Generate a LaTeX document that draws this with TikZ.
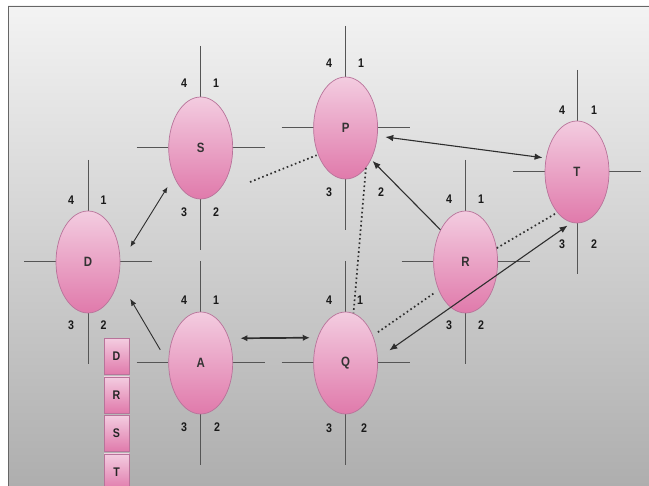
\documentclass[tikz,border=0pt]{standalone}
\usepackage{fontspec}
\setmainfont{Liberation Sans}
\newfontfamily\lblfont[FakeStretch=0.85]{Liberation Sans}
\usetikzlibrary{shapes.geometric,arrows.meta}
\definecolor{pinktop}{HTML}{F3CCE0}
\definecolor{pinkbot}{HTML}{E07AAB}
\definecolor{pinkline}{HTML}{B8739A}
\definecolor{bgtop}{HTML}{F3F3F3}
\definecolor{bgmid}{HTML}{D8D8D8}
\definecolor{bgbot}{HTML}{AEAEAE}
\definecolor{crossc}{HTML}{555555}
\definecolor{arrc}{HTML}{2E2E2E}
\pgfdeclarelayer{bg}\pgfdeclarelayer{lines}\pgfsetlayers{bg,lines,main}
\begin{document}
\begin{tikzpicture}[x=1pt,y=-1pt,
  router/.style={ellipse, draw=pinkline, line width=0.7pt, top color=pinktop, bottom color=pinkbot,
    minimum width=64pt, minimum height=102pt, inner sep=0pt,
    font=\lblfont\bfseries\fontsize{13.5}{13.5}\selectfont, text=black!80},
  stackbox/.style={rectangle, draw=pinkline, line width=0.7pt, top color=pinktop, bottom color=pinkbot,
    minimum width=25pt, minimum height=36pt, inner sep=0pt,
    font=\lblfont\bfseries\fontsize{12.5}{12.5}\selectfont, text=black!85},
  num/.style={font=\lblfont\bfseries\fontsize{12.5}{12.5}\selectfont, text=black!90, inner sep=0pt},
  crossline/.style={draw=crossc, line width=1pt},
  link/.style={draw=arrc, line width=0.9pt},
  dots/.style={draw=arrc, line width=1.7pt, dash pattern=on 1.6pt off 2.8pt}
]
\useasboundingbox (0,0) rectangle (649,486);
\begin{pgfonlayer}{bg}
  \fill[white] (0,0) rectangle (649,486);
  \shade[top color=bgtop, middle color=bgmid, bottom color=bgbot] (8,6) rectangle (649,486);
  \draw[gray!80!black, line width=0.8pt] (8,486) -- (8,6) -- (649,6);
\end{pgfonlayer}

% routers
\node[router] (D) at (88,262) {D};
\node[router] (S) at (200.7,148) {S};
\node[router] (P) at (345.6,128) {P};
\node[router] (T) at (577,172) {T};
\node[router] (R) at (465.6,262) {R};
\node[router] (A) at (200.7,363) {A};
\node[router] (Q) at (345.6,363) {Q};

% port cross lines
\begin{pgfonlayer}{lines}
\foreach \n in {D,S,P,T,R,A,Q}
  \draw[crossline] ([xshift=-64pt]\n.center) -- ([xshift=64pt]\n.center)
                   ([yshift=102pt]\n.center) -- ([yshift=-102pt]\n.center);
\end{pgfonlayer}

% port numbers
\foreach \n/\k/\px/\py in {
  S/4/184/83, S/1/216/83, S/3/184/212, S/2/216/212,
  P/4/329/63, P/1/361/63, P/3/329/192, P/2/381/192,
  T/4/562/110, T/1/594/110, T/3/562/244, T/2/594/244,
  D/4/71/200, D/1/103.5/200, D/3/71/325, D/2/103.5/325,
  R/4/449/199, R/1/481/199, R/3/449/325, R/2/481/325,
  A/4/184/300, A/1/216/300, A/3/184/427, A/2/217/427,
  Q/4/329/300, Q/1/360/300, Q/3/329/428, Q/2/364/428}
  \node[num] (\n\k) at (\px,\py) {\k};

% stack of boxes
\node[stackbox] (bD) at (116.5,356.5) {D};
\node[stackbox] (bR) at (116.5,395) {R};
\node[stackbox] (bS) at (116.5,433.5) {S};
\node[stackbox] (bT) at (116.5,472) {T};

% links
\draw[link, {Latex[length=6pt,width=5pt]}-{Latex[length=6pt,width=5pt]}, shorten <=19pt, shorten >=12pt] (D.-2) -- (S.227.7);
\draw[link, -{Latex[length=7pt,width=5.5pt]}, shorten <=16pt, shorten >=23pt] (A.181.3) -- (D.-29.8);
\draw[link, line width=1.7pt, {Latex[length=7pt,width=6.5pt]}-{Latex[length=7pt,width=6.5pt]}, shorten <=11.4pt, shorten >=7.7pt] (A.41.9) -- (Q.138.1);
\draw[link, line width=1.1pt, -{Latex[length=8pt,width=6.5pt]}, shorten >=2pt] (R.128) -- (P.-51.7);
\draw[link, line width=1.1pt, {Latex[length=8pt,width=6.5pt]}-{Latex[length=8pt,width=6.5pt]}, shorten <=7.8pt, shorten >=3.3pt] (P.-14.2) -- (T.156.1);
\draw[link, line width=1.1pt, {Latex[length=8pt,width=6.5pt]}-{Latex[length=8pt,width=6.5pt]}, shorten <=14pt, shorten >=5pt] (Q.8.7) -- (T.-96.7);

% dotted links
\coordinate (sp) at (250,182);
\draw[dots, shorten >=1.5pt] (sp) -- (P.224.2);
\draw[dots] (P.-63) -- (Q.81.7);
\draw[dots, shorten <=6pt, shorten >=5pt] (Q.45.7) -- (R.226.5);
\draw[dots] (R.24) -- (T.-116.6);
\end{tikzpicture}
\end{document}
